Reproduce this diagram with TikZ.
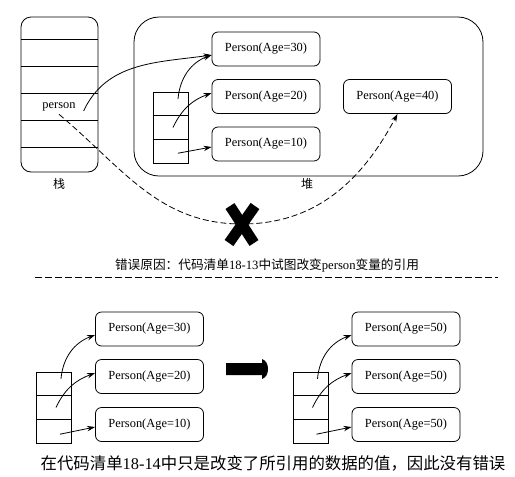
\documentclass[tikz,border=0pt]{standalone}
\usepackage{fontspec}
\setmainfont{Liberation Serif}
\newfontfamily\cjk{Noto Sans CJK SC}
\usetikzlibrary{positioning}
\usetikzlibrary{arrows.meta}

\begin{document}
\begin{tikzpicture}[x=0.75pt,y=-0.75pt,line width=0.6pt,
        personbox/.style={draw,shape=rectangle,rounded corners=4.5pt,inner sep=0pt,
                minimum width=81pt,minimum height=25.5pt,font=\fontsize{9.3}{11}\selectfont},
        cellbox/.style={draw,shape=rectangle,inner sep=0pt,minimum width=26.25pt,minimum height=17.75pt},
        ref/.style={-{Stealth[length=6pt,width=4pt]}},
        wrongref/.style={ref,dash pattern=on 4.5pt off 2.25pt}]
        \useasboundingbox (0,0) rectangle (515,476);

        % stack
        \draw[rounded corners=7.5pt] (21,17) rectangle (98,172);
        \foreach \y in {39,66,93,120,147}
                \draw (21,\y) -- (98,\y);
        \node[inner sep=2pt,font=\fontsize{9.3}{11}\selectfont] (person) at (59,107) {person};
        \node[font=\fontsize{9}{11}\selectfont] (stacklabel) at (59,184) {\cjk 栈};

        % heap
        \draw[rounded corners=18.75pt] (134,17) rectangle (483,176);
        \node[font=\fontsize{9}{11}\selectfont] (heaplabel) at (307,184) {\cjk 堆};
        \node[personbox] (h1) at (266,49) {Person(Age=30)};
        \node[personbox] (h2) at (266,96.5) {Person(Age=20)};
        \node[personbox] (h3) at (266,144) {Person(Age=10)};
        \node[personbox] (h40) at (397.5,96.5) {Person(Age=40)};
        \node[cellbox] (hc1) at (170.5,103.8) {};
        \node[cellbox] (hc2) at (170.5,127.5) {};
        \node[cellbox] (hc3) at (170.5,151.2) {};

        \draw[ref] ([shift={(7.5,-4.8)}]hc1.center) to[out=85,in=200] ([shift={(0,6)}]h1.west);
        \draw[ref] ([shift={(2.5,0)}]hc2.center) to[out=65,in=200] ([shift={(0,-3.5)}]h2.west);
        \draw[ref] ([shift={(7.5,2)}]hc3.center) -- ([shift={(0,3)}]h3.west);
        \draw[ref] ([shift={(5,4)}]person.east) to[out=65,in=188] ([shift={(0,6)}]h1.west);

        % the reassignment that fails
        \coordinate (cross) at (242,224);
        \draw[wrongref] (person.south) to[out=-40,in=180] (cross) to[out=0,in=-118] (h40.south);
        \draw[line width=8pt] ([shift={(-12,-18)}]cross) -- ([shift={(12,19)}]cross);
        \draw[line width=8pt] ([shift={(13,-18)}]cross) -- ([shift={(-13,19)}]cross);

        \node[font=\fontsize{9.5}{11}\selectfont] (caption1) at (267,265)
                {{\cjk 错误原因：代码清单}18-13{\cjk 中试图改变}person{\cjk 变量的引用}};
        \draw[dash pattern=on 5pt off 2.5pt] (35,277) -- (498,277);

        % before and after
        \foreach \bx/\cx/\n/\ageA/\ageB/\ageC in {149.5/54/l/30/20/10,406/310.5/r/50/50/50}{
                \node[personbox] (\n b1) at (\bx,329) {Person(Age=\ageA)};
                \node[personbox] (\n b2) at (\bx,376.5) {Person(Age=\ageB)};
                \node[personbox] (\n b3) at (\bx,424.5) {Person(Age=\ageC)};
                \node[cellbox] (\n c1) at (\cx,383.8) {};
                \node[cellbox] (\n c2) at (\cx,407.5) {};
                \node[cellbox] (\n c3) at (\cx,431.2) {};
                \draw[ref] ([shift={(7,-5)}]\n c1.center) to[out=85,in=200] ([shift={(0,6)}]\n b1.west);
                \draw[ref] ([shift={(2,0)}]\n c2.center) to[out=65,in=200] ([shift={(0,-3.5)}]\n b2.west);
                \draw[ref] ([shift={(6,3)}]\n c3.center) -- ([shift={(0,2.5)}]\n b3.west);
        }
        \fill (226,363) -- (262,363) -- (262,359) to[out=-20,in=90] (268,369)
                to[out=-90,in=20] (262,379) -- (262,375) -- (226,375) -- cycle;

        \node[font=\fontsize{12.3}{14}\selectfont] (caption2) at (273,463)
                {{\cjk 在代码清单}18-14{\cjk 中只是改变了所引用的数据的值，因此没有错误}};
\end{tikzpicture}
\end{document}
